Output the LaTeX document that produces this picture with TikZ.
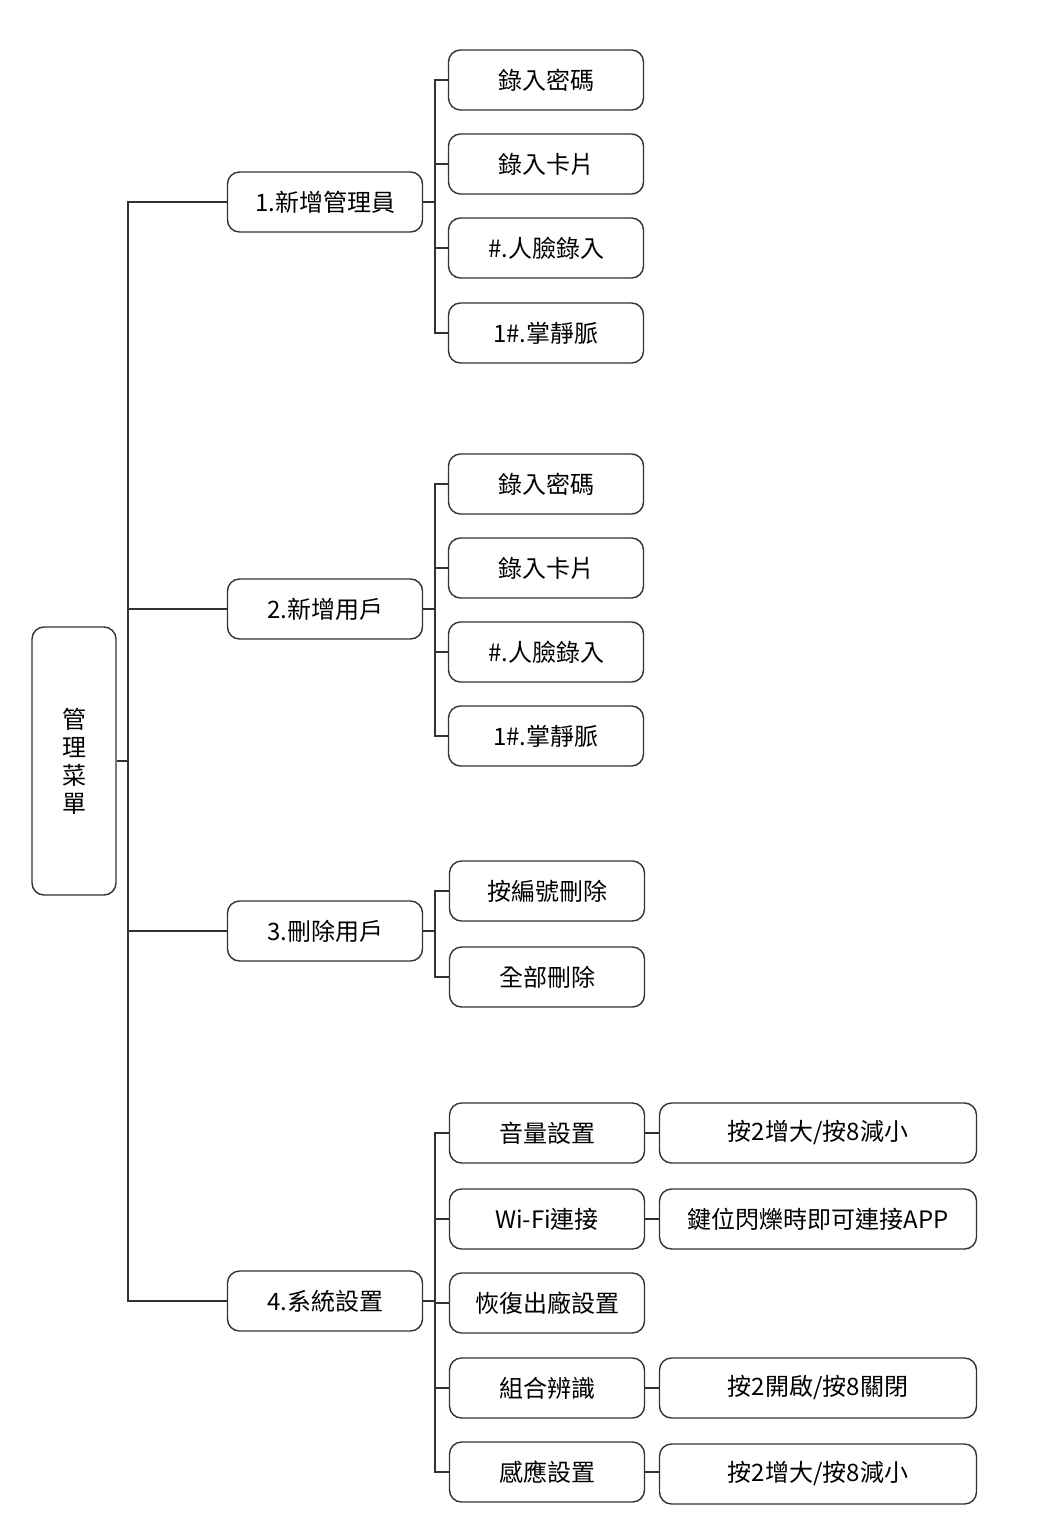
\documentclass[tikz,border=0pt]{standalone}
\usepackage{fontspec}
\newfontfamily\cjk{Noto Sans CJK TC}
\usetikzlibrary{calc}
\begin{document}
\begin{tikzpicture}[x=0.5pt,y=-0.5pt,
kast/.style={rectangle,rounded corners=6pt,draw=black!80,line width=0.7pt,font=\cjk\fontsize{12}{14}\selectfont,inner sep=0pt},
kast1/.style={kast,minimum width=97.5pt,minimum height=30pt},
kast3/.style={kast,minimum width=158.5pt,minimum height=30pt},
lijn/.style={draw=black!80,line width=0.7pt}]
\useasboundingbox (0,0) rectangle (1052,1534);

\node[kast,minimum width=42pt,minimum height=134pt,align=center](root) at (74,761){管\\理\\菜\\單};

\node[kast1](m1) at (325,202){1.新增管理員};
\node[kast1](m2) at (325,609){2.新增用戶};
\node[kast1](m3) at (325,931){3.刪除用戶};
\node[kast1](m4) at (325,1301){4.系統設置};

% eerste groep
\node[kast1](a1) at (546,80){錄入密碼};
\node[kast1](a2) at (546,164){錄入卡片};
\node[kast1](a3) at (546,248){\#.人臉錄入};
\node[kast1](a4) at (546,333){1\#.掌靜脈};
% tweede groep
\node[kast1](b1) at (546,484){錄入密碼};
\node[kast1](b2) at (546,568){錄入卡片};
\node[kast1](b3) at (546,652){\#.人臉錄入};
\node[kast1](b4) at (546,736){1\#.掌靜脈};
% derde groep
\node[kast1](c1) at (547,891){按編號刪除};
\node[kast1](c2) at (547,977){全部刪除};
% vierde groep
\node[kast1](d1) at (547,1133){音量設置};
\node[kast1](d2) at (547,1219){Wi-Fi連接};
\node[kast1](d3) at (547,1303){恢復出廠設置};
\node[kast1](d4) at (547,1388){組合辨識};
\node[kast1](d5) at (547,1472){感應設置};

\node[kast3](e1) at (818,1133){按2增大/按8減小};
\node[kast3](e2) at (818,1219){鍵位閃爍時即可連接APP};
\node[kast3](e4) at (818,1388){按2開啟/按8關閉};
\node[kast3](e5) at (818,1474){按2增大/按8減小};

\coordinate (trunk) at (128,761);
\coordinate (g1) at (435,202);
\coordinate (g2) at (435,609);
\coordinate (g3) at (435,931);
\coordinate (g4) at (435,1301);

\begin{scope}[lijn]
\draw (root) -- (trunk);
\foreach \m in {m1,m2,m3,m4}
  \draw (trunk) |- (\m);
\draw (m1) -- (g1); \draw (m2) -- (g2); \draw (m3) -- (g3); \draw (m4) -- (g4);
\foreach \k in {a1,a2,a3,a4} \draw (g1) |- (\k);
\foreach \k in {b1,b2,b3,b4} \draw (g2) |- (\k);
\foreach \k in {c1,c2} \draw (g3) |- (\k);
\foreach \k in {d1,d2,d3,d4,d5} \draw (g4) |- (\k);
\draw (d1) -- (e1);
\draw (d2) -- (e2);
\draw (d4) -- (e4);
\draw (d5.east) -- (e5.west|-d5.east);
\end{scope}
\end{tikzpicture}
\end{document}
